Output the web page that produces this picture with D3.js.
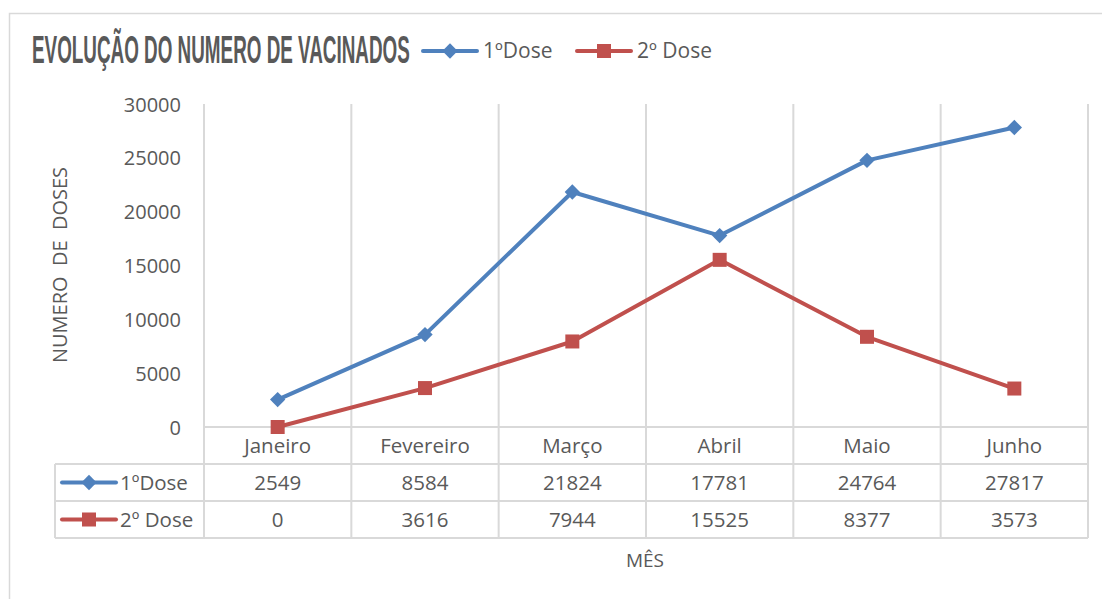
<!DOCTYPE html>
<html>
<head>
<meta charset="utf-8">
<script src="https://cdnjs.cloudflare.com/ajax/libs/d3/7.8.5/d3.min.js"></script>
<style>
    body { margin: 0; background: #fff; }
    text { font-family: "Open Sans", "Liberation Sans", sans-serif; fill: #595959; }
</style>
</head>
<body>
<script>
/* Evolução do numero de vacinados - line chart with data table */

// data
const months = ["Janeiro", "Fevereiro", "Março", "Abril", "Maio", "Junho"];
const dose1 = [2549, 8584, 21824, 17781, 24764, 27817];
const dose2 = [0, 3616, 7944, 15525, 8377, 3573];
const seriesNames = ["1ºDose", "2º Dose"];
const yTicks = [0, 5000, 10000, 15000, 20000, 25000, 30000];

const width = 1102;
const height = 599;

// plot area
const plotLeft = 204, plotRight = 1088, plotTop = 104, zeroY = 427;
const rowH = 37;
const tableLeft = 55;

const blue = "#4F81BD";
const red = "#C0504D";
const grid = "#D9D9D9";

let svg = d3.select("body")
            .append("svg")
            .attr("width", width)
            .attr("height", height);

// outer chart border (cropped on the right and bottom)
svg.append("path")
   .attr("d", "M9.5," + (height + 2) + "V13.5H" + (width + 2))
   .attr("fill", "none")
   .attr("stroke", grid)
   .attr("stroke-width", 1.5);

let xScale = d3.scaleBand()
               .domain(months)
               .range([plotLeft, plotRight]);

let yScale = d3.scaleLinear()
               .domain([0, 30000])
               .range([zeroY, plotTop]);

const tableBottom = zeroY + rowH * 3;

// vertical category gridlines, through the table
let bounds = months.map(function(m) { return xScale(m); }).concat([plotRight]);
svg.selectAll(".vgrid")
   .data(bounds)
   .enter().append("line")
   .attr("class", "vgrid")
   .attr("x1", function(d) { return d; })
   .attr("x2", function(d) { return d; })
   .attr("y1", plotTop)
   .attr("y2", tableBottom)
   .attr("stroke", grid)
   .attr("stroke-width", 2);

// horizontal table lines
let rowLines = [zeroY, zeroY + rowH, zeroY + 2 * rowH, tableBottom];
svg.selectAll(".hgrid")
   .data(rowLines)
   .enter().append("line")
   .attr("class", "hgrid")
   .attr("x1", function(d, i) { return i == 0 ? plotLeft : tableLeft; })
   .attr("x2", plotRight)
   .attr("y1", function(d) { return d; })
   .attr("y2", function(d) { return d; })
   .attr("stroke", grid)
   .attr("stroke-width", 2);

svg.append("line")
   .attr("x1", tableLeft).attr("x2", tableLeft)
   .attr("y1", zeroY + rowH).attr("y2", tableBottom)
   .attr("stroke", grid)
   .attr("stroke-width", 2);

// y axis
let yAxis = svg.append("g")
               .attr("transform", "translate(" + (plotLeft - 23) + ",0)")
               .call(d3.axisLeft(yScale)
                       .tickValues(yTicks)
                       .tickFormat(d3.format("d"))
                       .tickSize(0)
                       .tickPadding(0));
yAxis.select(".domain").remove();
yAxis.selectAll("text")
     .attr("dy", "0.35em")
     .style("font-size", "20px")
     .style("font-family", "'Open Sans', sans-serif")
     .attr("fill", "#595959");

// y axis label
svg.append("text")
   .attr("transform", "translate(60," + 265 + ") rotate(-90)")
   .style("text-anchor", "middle")
   .style("font-size", "20px")
   .attr("dy", "0.35em")
   .attr("xml:space", "preserve")
   .text("NUMERO  DE  DOSES");

// category row
svg.selectAll(".cat")
   .data(months)
   .enter().append("text")
   .attr("class", "cat")
   .attr("x", function(d) { return xScale(d) + xScale.bandwidth() / 2; })
   .attr("y", zeroY + rowH / 2)
   .attr("dy", "0.35em")
   .style("text-anchor", "middle")
   .style("font-size", "20.5px")
   .text(function(d) { return d; });

// series
let series = [
    {name: seriesNames[0], values: dose1, color: blue, marker: d3.symbolDiamond2, size: 150},
    {name: seriesNames[1], values: dose2, color: red, marker: d3.symbolSquare2, size: 250}
];

let line = d3.line()
             .x(function(d, i) { return xScale(months[i]) + xScale.bandwidth() / 2; })
             .y(function(d) { return yScale(d); });

function drawKey(g, s, cx, cy) {
    g.append("line")
     .attr("x1", cx - 27).attr("x2", cx + 27)
     .attr("y1", cy).attr("y2", cy)
     .attr("stroke", s.color)
     .attr("stroke-width", 4)
     .attr("stroke-linecap", "round");
    g.append("path")
     .attr("d", d3.symbol().type(s.marker).size(s.size)())
     .attr("transform", "translate(" + cx + "," + cy + ")")
     .attr("fill", s.color);
}

series.forEach(function(s, k) {
    svg.append("path")
       .datum(s.values)
       .attr("d", line)
       .attr("fill", "none")
       .attr("stroke", s.color)
       .attr("stroke-width", 4)
       .attr("stroke-linejoin", "round");

    svg.selectAll(".m" + k)
       .data(s.values)
       .enter().append("path")
       .attr("class", "m" + k)
       .attr("d", d3.symbol().type(s.marker).size(s.size)())
       .attr("transform", function(d, i) {
           return "translate(" + (xScale(months[i]) + xScale.bandwidth() / 2) + "," + yScale(d) + ")";
       })
       .attr("fill", s.color);

    // table row
    let rowY = zeroY + rowH * (k + 1) + rowH / 2;
    let row = svg.append("g");
    drawKey(row, s, 89, rowY);
    row.append("text")
       .attr("x", 120)
       .attr("y", rowY)
       .attr("dy", "0.35em")
       .style("font-size", "20.5px")
       .text(s.name);
    row.selectAll(".val")
       .data(s.values)
       .enter().append("text")
       .attr("x", function(d, i) { return xScale(months[i]) + xScale.bandwidth() / 2; })
       .attr("y", rowY)
       .attr("dy", "0.35em")
       .style("text-anchor", "middle")
       .style("font-size", "20.5px")
       .text(function(d) { return d; });
});

// legend
let legendX = [450, 604];
series.forEach(function(s, k) {
    let g = svg.append("g");
    drawKey(g, s, legendX[k], 51);
    g.append("text")
     .attr("x", legendX[k] + 33)
     .attr("y", 51)
     .attr("dy", "0.35em")
     .style("font-size", "21px")
     .text(s.name);
});

// title: bold text squeezed horizontally to look condensed
let title = svg.append("text")
   .style("font-family", "'Liberation Sans', Arial, sans-serif")
   .style("font-weight", "bold")
   .style("font-size", "38px")
   .attr("fill", "#595959")
   .text("EVOLUÇÃO DO NUMERO DE VACINADOS");
let natural = title.node().getComputedTextLength();
title.attr("transform", "translate(32,63) scale(" + (378 / natural) + ",1)");

// x axis title
svg.append("text")
   .attr("x", 645)
   .attr("y", 560)
   .attr("dy", "0.35em")
   .style("text-anchor", "middle")
   .style("font-size", "19px")
   .text("MÊS");
</script>
</body>
</html>
